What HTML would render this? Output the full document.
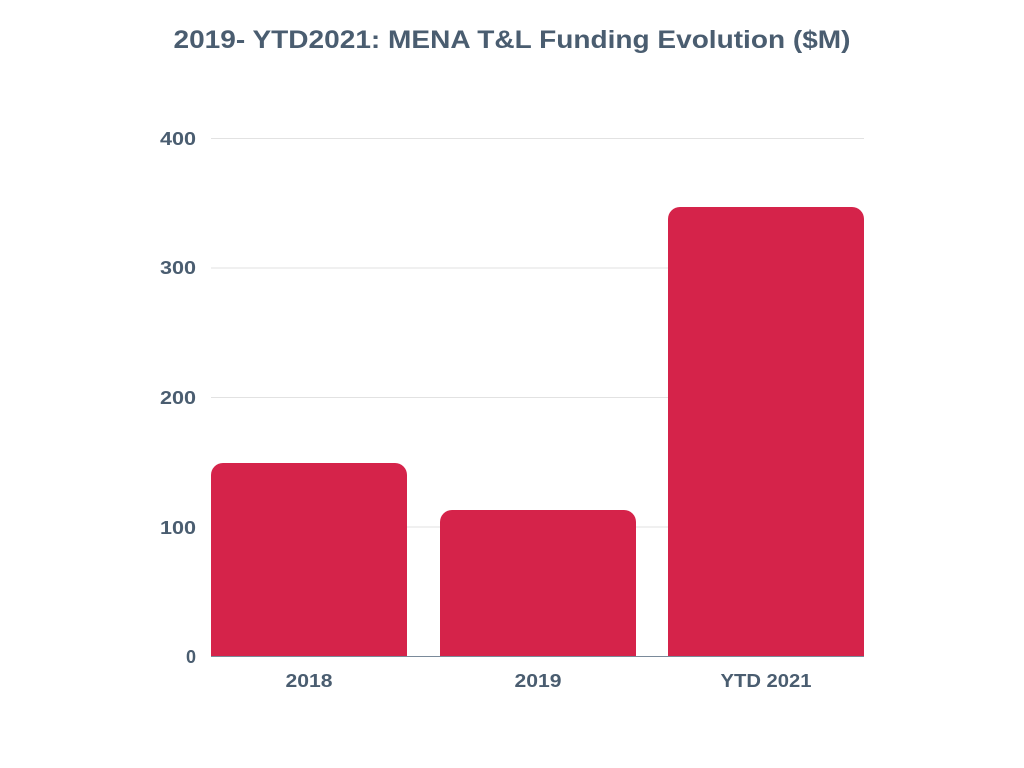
<!DOCTYPE html>
<html><head><style>body{margin:0;background:#fff}svg{display:block}</style></head>
<body>
<svg width="1024" height="768" viewBox="0 0 1024 768" xmlns="http://www.w3.org/2000/svg" font-family="Liberation Sans, sans-serif" font-weight="bold" fill="#4a5d70">
<text x="512" y="48" font-size="25" text-anchor="middle" textLength="677" lengthAdjust="spacingAndGlyphs">2019- YTD2021: MENA T&amp;L Funding Evolution ($M)</text>
<g stroke="#e2e2e2" stroke-width="1">
<line x1="211" y1="138.5" x2="864" y2="138.5"/>
<line x1="211" y1="268" x2="864" y2="268"/>
<line x1="211" y1="397.5" x2="864" y2="397.5"/>
<line x1="211" y1="527" x2="864" y2="527"/>
</g>
<g font-size="18" text-anchor="end">
<text x="196" y="145" textLength="36" lengthAdjust="spacingAndGlyphs">400</text>
<text x="196" y="274" textLength="36" lengthAdjust="spacingAndGlyphs">300</text>
<text x="196" y="404" textLength="36" lengthAdjust="spacingAndGlyphs">200</text>
<text x="196" y="534" textLength="36" lengthAdjust="spacingAndGlyphs">100</text>
<text x="196" y="663">0</text>
</g>
<g fill="#d5234a">
<path d="M211 656.5V475a12 12 0 0 1 12-12H395a12 12 0 0 1 12 12V656.5Z"/>
<path d="M440 656.5V522a12 12 0 0 1 12-12H624a12 12 0 0 1 12 12V656.5Z"/>
<path d="M668 656.5V219a12 12 0 0 1 12-12H852a12 12 0 0 1 12 12V656.5Z"/>
</g>
<line x1="211" y1="656.5" x2="864" y2="656.5" stroke="#7a8a9a" stroke-width="1"/>
<g font-size="18" text-anchor="middle">
<text x="309" y="687" textLength="47" lengthAdjust="spacingAndGlyphs">2018</text>
<text x="538" y="687" textLength="47" lengthAdjust="spacingAndGlyphs">2019</text>
<text x="766" y="687" textLength="91" lengthAdjust="spacingAndGlyphs">YTD 2021</text>
</g>
</svg>
</body></html>
